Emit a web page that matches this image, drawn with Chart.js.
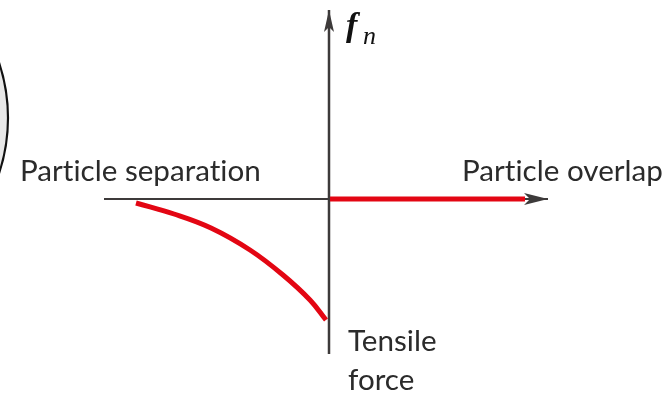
<!DOCTYPE html>
<html>
<head>
<meta charset="utf-8">
<script src="https://cdn.jsdelivr.net/npm/chart.js@4/dist/chart.umd.min.js"></script>
<style>
  html, body { margin: 0; padding: 0; background: #fff; }
  #c { display: block; }
</style>
</head>
<body>
<canvas id="c" width="668" height="395"></canvas>
<script>
// tensile branch (particle separation side)
var sepX = [-1.93, -1.55, -1.18, -0.79, -0.46, -0.19, -0.03];
var sepY = [-0.04, -0.15, -0.29, -0.51, -0.76, -1.01, -1.21];
// overlap side: zero force
var overlapX = [0.01, 1.96];
var overlapY = [0, 0];
// axis extents
var axisX = [-2.25, 2.19];
var axisY = [-1.55, 1.89];

var labels = {
  left: "Particle separation",
  right: "Particle overlap",
  bottom: ["Tensile", "force"]
};

function pts(xs, ys) {
  var out = [];
  for (var i = 0; i < xs.length; i++) out.push({ x: xs[i], y: ys[i] });
  return out;
}

var axisColor = '#3d3a3a';
var red = '#e30613';

var decor = {
  id: 'decor',
  beforeDatasetsDraw: function (chart) {
    var ctx = chart.ctx;
    // partial particle at the left edge
    ctx.save();
    ctx.beginPath();
    ctx.arc(-168, 118, 176, 0, Math.PI * 2);
    ctx.fillStyle = '#e8e8e8';
    ctx.fill();
    ctx.lineWidth = 2.2;
    ctx.strokeStyle = '#111';
    ctx.stroke();
    ctx.restore();
  },
  afterDraw: function (chart) {
    var ctx = chart.ctx;
    var xs = chart.scales.x, ys = chart.scales.y;
    var ox = xs.getPixelForValue(0), oy = ys.getPixelForValue(0);
    var xe = xs.getPixelForValue(axisX[1]);
    var ye = ys.getPixelForValue(axisY[1]);

    ctx.save();
    ctx.fillStyle = axisColor;
    // right arrow
    ctx.beginPath();
    ctx.moveTo(xe, oy);
    ctx.lineTo(xe - 24, oy - 6);
    ctx.lineTo(xe - 18, oy);
    ctx.lineTo(xe - 24, oy + 6);
    ctx.closePath();
    ctx.fill();
    // up arrow
    ctx.beginPath();
    ctx.moveTo(ox, ye);
    ctx.lineTo(ox - 5, ye + 22);
    ctx.lineTo(ox, ye + 17);
    ctx.lineTo(ox + 5, ye + 22);
    ctx.closePath();
    ctx.fill();

    ctx.fillStyle = '#2b2b2b';
    ctx.font = '29.6px Lato';
    if ('letterSpacing' in ctx) ctx.letterSpacing = '0.01px'; // no ti ligature
    ctx.textBaseline = 'alphabetic';
    ctx.fillText(labels.left, 20, 181);
    ctx.fillText(labels.right, 462, 181);
    ctx.fillText(labels.bottom[0], 348, 351);
    ctx.fillText(labels.bottom[1], 348, 390);

    ctx.fillStyle = '#111';
    ctx.font = 'bold italic 34px "Liberation Serif"';
    ctx.fillText('f', 346, 36);
    ctx.font = 'italic 26px "Liberation Serif"';
    ctx.fillText('n', 363, 44);
    ctx.restore();
  }
};

new Chart(document.getElementById('c'), {
  type: 'scatter',
  data: {
    datasets: [
      { data: pts(overlapX, overlapY), showLine: true, borderColor: red, borderWidth: 5, pointRadius: 0 },
      { data: pts(sepX, sepY), showLine: true, borderColor: red, borderWidth: 5, pointRadius: 0, tension: 0.4 },
      { data: pts(axisX, [0, 0]), showLine: true, borderColor: axisColor, borderWidth: 2, pointRadius: 0 },
      { data: pts([0, 0], axisY), showLine: true, borderColor: axisColor, borderWidth: 2.5, pointRadius: 0 }
    ]
  },
  options: {
    responsive: false,
    animation: false,
    layout: { padding: 0 },
    plugins: { legend: { display: false }, tooltip: { enabled: false } },
    scales: {
      x: { type: 'linear', display: false, min: -3.29, max: 3.39 },
      y: { type: 'linear', display: false, min: -1.96, max: 1.99 }
    }
  },
  plugins: [decor]
});
</script>
</body>
</html>
